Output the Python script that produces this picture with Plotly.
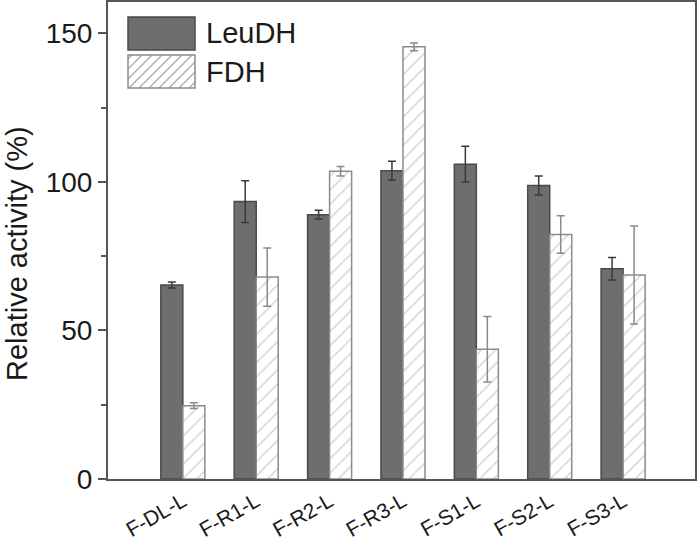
import plotly.graph_objects as go

categories = ["F-DL-L", "F-R1-L", "F-R2-L", "F-R3-L", "F-S1-L", "F-S2-L", "F-S3-L"]
leudh = [65.3, 93.4, 89.0, 103.8, 106.0, 98.8, 70.8]
leudh_err = [1.0, 7.0, 1.5, 3.2, 6.0, 3.2, 3.8]
fdh = [24.7, 68.0, 103.6, 145.5, 43.7, 82.3, 68.7]
fdh_err = [1.0, 9.8, 1.6, 1.3, 11.0, 6.3, 16.5]
y_ticks = [0, 50, 100, 150]

L, R, T, B = 108, 5, 2, 61
W, H = 700, 540
PW, PH = W - L - R, H - T - B

fig = go.Figure()
fig.add_trace(go.Bar(
    x=categories, y=leudh, name="LeuDH",
    marker=dict(color="#6e6e6e", line=dict(color="#4a4a4a", width=1.5)),
    error_y=dict(type="data", array=leudh_err, color="#3a3a3a", thickness=1.5, width=4),
    showlegend=False,
))
fig.add_trace(go.Bar(
    x=categories, y=fdh, name="FDH",
    marker=dict(color="white", line=dict(color="#8c8c8c", width=1.5),
                pattern=dict(shape="/", fgcolor="#a8a8a8", bgcolor="white", size=10, solidity=0.15)),
    error_y=dict(type="data", array=fdh_err, color="#8a8a8a", thickness=1.5, width=4),
    showlegend=False,
))

def px2paper(px, py):
    return (px - L) / PW, (H - B - py) / PH

shapes = []
x0, y1 = px2paper(128, 17)
x1, y0 = px2paper(195, 50)
shapes.append(dict(type="rect", xref="paper", yref="paper", x0=x0, x1=x1, y0=y0, y1=y1,
                   fillcolor="#6e6e6e", line=dict(color="#4a4a4a", width=1.5)))
bx0, by0, bx1, by1 = 128, 55, 195, 88
path = ""
s = bx0 - (by1 - by0) + 4
while s < bx1:
    ax, ay = s, by1
    bxp, byp = s + (by1 - by0), by0
    if ax < bx0:
        ay = by1 - (bx0 - ax); ax = bx0
    if bxp > bx1:
        byp = by0 + (bxp - bx1); bxp = bx1
    if ax < bxp:
        p1 = px2paper(ax, ay); p2 = px2paper(bxp, byp)
        path += f"M{p1[0]},{p1[1]} L{p2[0]},{p2[1]} "
    s += 10
fx0, fy1 = px2paper(bx0, by0)
fx1, fy0 = px2paper(bx1, by1)
shapes.append(dict(type="rect", xref="paper", yref="paper", x0=fx0, x1=fx1, y0=fy0, y1=fy1,
                   fillcolor="white", line=dict(width=0)))
shapes.append(dict(type="path", xref="paper", yref="paper", path=path,
                   line=dict(color="#a8a8a8", width=1.2)))
shapes.append(dict(type="rect", xref="paper", yref="paper", x0=fx0, x1=fx1, y0=fy0, y1=fy1,
                   fillcolor="rgba(0,0,0,0)", line=dict(color="#8c8c8c", width=1.5)))

tx, ty1 = px2paper(204, 33)
_, ty2 = px2paper(204, 72)
annotations = [
    dict(text="LeuDH", x=tx, y=ty1, xref="paper", yref="paper", xanchor="left", yanchor="middle",
         showarrow=False, font=dict(size=29, color="#1a1a1a")),
    dict(text="FDH", x=tx, y=ty2, xref="paper", yref="paper", xanchor="left", yanchor="middle",
         showarrow=False, font=dict(size=29, color="#1a1a1a")),
    dict(text="Relative activity (%)", x=px2paper(17, 254)[0], y=px2paper(17, 254)[1],
         xref="paper", yref="paper", xanchor="center", yanchor="middle", textangle=-90,
         showarrow=False, font=dict(size=29, color="#1a1a1a")),
]

fig.update_layout(
    width=W, height=H,
    margin=dict(l=L, r=R, t=T, b=B, autoexpand=False),
    paper_bgcolor="white", plot_bgcolor="white",
    font=dict(family="Liberation Sans, Arial, sans-serif", color="#1a1a1a"),
    barmode="group", bargap=0.4, bargroupgap=0,
    shapes=shapes, annotations=annotations,
    showlegend=False,
)
fig.update_xaxes(
    range=[-1.02, 6.98], showline=True, linecolor="#555555", linewidth=2, mirror=True,
    ticks="", tickangle=-30, tickfont=dict(size=21, color="#1a1a1a"), showgrid=False,
    automargin=False,
)
fig.update_yaxes(
    range=[0, 160.6], tickvals=y_ticks, ticks="outside", ticklen=8, tickwidth=2, tickcolor="#555555",
    minor=dict(dtick=25, ticks="outside", ticklen=5, tickwidth=2, tickcolor="#555555", showgrid=False),
    showline=True, linecolor="#555555", linewidth=2, mirror=True, showgrid=False, zeroline=False,
    tickfont=dict(size=28, color="#1a1a1a"), automargin=False,
)

fig.write_html("out.html", config={"displayModeBar": False},
               post_script="document.body.style.margin='0';document.body.style.padding='0';")
